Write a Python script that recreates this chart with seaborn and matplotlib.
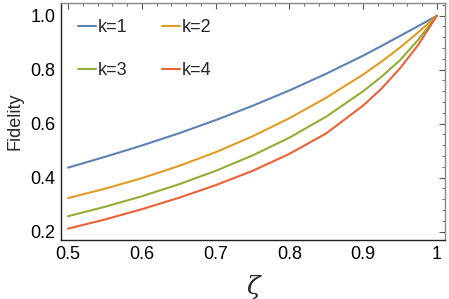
import numpy as np
import pandas as pd
import seaborn as sns
import matplotlib.pyplot as plt
from matplotlib.ticker import MultipleLocator

# values
zeta = [0.5, 0.55, 0.6, 0.65, 0.7, 0.75, 0.8, 0.85, 0.9, 0.925, 0.95, 0.975, 1.0]
fid_k1 = [0.437, 0.477, 0.519, 0.564, 0.613, 0.666, 0.723, 0.785, 0.852, 0.888, 0.925, 0.962, 1.0]
fid_k2 = [0.324, 0.359, 0.398, 0.443, 0.494, 0.553, 0.620, 0.696, 0.782, 0.830, 0.882, 0.939, 1.0]
fid_k3 = [0.257, 0.292, 0.331, 0.375, 0.425, 0.482, 0.548, 0.626, 0.720, 0.774, 0.835, 0.912, 1.0]
fid_k4 = [0.211, 0.245, 0.283, 0.325, 0.372, 0.425, 0.488, 0.564, 0.667, 0.730, 0.805, 0.893, 1.0]
series_names = ["k=1", "k=2", "k=3", "k=4"]
x_ticks = [0.5, 0.6, 0.7, 0.8, 0.9, 1.0]
x_tick_labels = ["0.5", "0.6", "0.7", "0.8", "0.9", "1"]
y_ticks = [0.2, 0.4, 0.6, 0.8, 1.0]
y_tick_labels = ["0.2", "0.4", "0.6", "0.8", "1.0"]

colors = ["#5E81B5", "#E19C24", "#8FB032", "#EB6235"]

df = pd.concat([
    pd.DataFrame({"zeta": zeta, "F": vals, "k": name})
    for name, vals in zip(series_names, [fid_k1, fid_k2, fid_k3, fid_k4])
])

sns.set_style("white")
plt.rcParams['font.family'] = ['Liberation Sans', 'DejaVu Sans']

fig = plt.figure(figsize=(4.49, 2.99), dpi=100)
ax = fig.add_axes([61/449, 59/299, 384/449, 237/299])

sns.lineplot(data=df, x="zeta", y="F", hue="k", palette=colors,
             linewidth=1.5, ax=ax, legend=False)

ax.set_xlim(0.4905, 1.011)
ax.set_ylim(0.169, 1.047)
ax.set_xticks(x_ticks)
ax.set_xticklabels(x_tick_labels)
ax.set_yticks(y_ticks)
ax.set_yticklabels(y_tick_labels)
ax.xaxis.set_minor_locator(MultipleLocator(0.02))
ax.yaxis.set_minor_locator(MultipleLocator(0.04))
ax.tick_params(which='both', direction='in', top=True, right=True,
               labelsize=13, color='#555555', labelcolor='black', pad=4)
ax.tick_params(which='major', length=4, width=0.8)
ax.tick_params(which='minor', length=2, width=0.6)

for side in ['left', 'bottom']:
    ax.spines[side].set_color('#222222')
    ax.spines[side].set_linewidth(1.0)
for side in ['top', 'right']:
    ax.spines[side].set_color('#888888')
    ax.spines[side].set_linewidth(1.0)

ax.set_xlabel("ζ", fontsize=18, style='italic', family=['DejaVu Serif'], labelpad=9)
ax.set_ylabel("Fidelity", fontsize=13, labelpad=5)

# row-wise order: k=1, k=2 on top row; k=3, k=4 below
order = [0, 2, 1, 3]
handles = [plt.Line2D([], [], color=colors[i], lw=1.5) for i in order]
labels = [series_names[i] for i in order]
fig.legend(handles, labels, loc='upper left',
           bbox_to_anchor=(78/449, 1 - 19/299), ncol=2, frameon=False,
           fontsize=13, handlelength=1.0, handletextpad=0.1,
           columnspacing=1.9, labelspacing=1.45, borderpad=0,
           borderaxespad=0)

fig.savefig("out.png", dpi=100)
